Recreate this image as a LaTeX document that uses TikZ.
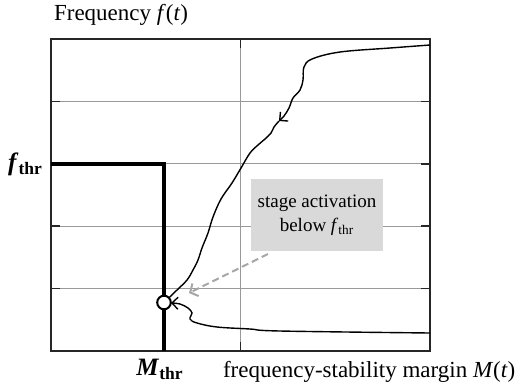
\documentclass[tikz,border=0pt]{standalone}
\usepackage{fontspec}
\setmainfont{Liberation Serif}
\usetikzlibrary{arrows.meta}
\begin{document}
\begin{tikzpicture}[x=0.5pt,y=-0.5pt,
    grid/.style={draw=black!40,line width=0.5pt},
    tick/.style={draw=black!85,line width=0.8pt},
    curve/.style={line width=0.7pt,smooth,tension=0.6},
    barb/.style={-{Straight Barb[length=3pt,width=6pt]}},
    hint/.style={draw=black!35,line width=1pt,dash pattern=on 3.5pt off 2pt,
                 -{Straight Barb[length=3pt,width=7pt,line width=1pt]}},
    label/.style={font=\fontsize{11.5}{13}\selectfont},
    thr/.style={font=\fontsize{12.5}{14}\selectfont\bfseries}]
\useasboundingbox (0,0) rectangle (521,388);

% grid lines and ticks
\foreach \y in {101.4,163.8,226.2,288.6} {
  \draw[grid] (51,\y) -- (430,\y);
  \draw[tick] (51,\y) -- (60,\y);
  \draw[tick] (421,\y) -- (430,\y);
}
\draw[grid] (240.5,39) -- (240.5,351);
\draw[tick] (240.5,39) -- (240.5,48);
\draw[tick] (240.5,342) -- (240.5,351);
\draw[line width=0.9pt,black!85] (51,39) rectangle (430,351);

% threshold
\draw[line width=2pt] (51,163.8) -| (164,351);

% trajectory
\draw[curve,barb] plot coordinates {(430,45) (390,48) (340,52) (312,59) (304,67)
  (303,80) (300,90) (293,98) (289,108) (284,116) (279,121)};
\draw[curve] plot coordinates {(279,121) (274,127) (271,133) (265,139) (258,145)
  (250,153) (241,168) (232,183) (221,199) (213,217) (208,233) (202,248) (198,260)
  (193,270) (187,280) (177,290) (164,302.5)};
\draw[curve,barb] plot coordinates {(430,333) (280,331) (250,329) (217,327)
  (197,323) (190,319) (192,313) (188,308) (180,304) (171,303)};

\node[circle,draw,fill=white,line width=1pt,minimum size=6.8pt,inner sep=0pt] (act) at (164,302.5) {};

% note
\node[fill=black!15,minimum width=65pt,minimum height=36pt,align=center,
      font=\fontsize{9.5}{12}\selectfont] (note) at (317,215)
      {stage activation\\below \textit{f}\textsubscript{thr}};
\coordinate (tail) at (268,254);
\coordinate (tip) at (189,293);
\draw[hint] (tail) -- (tip);

% labels
\node[label,anchor=west] (ylab) at (47,15) {Frequency \textit{f}(\textit{t})};
\node[label,anchor=west] (xlab) at (216,372) {frequency-stability margin \textit{M}(\textit{t})};
\node[thr,anchor=east] (fthr) at (50,164) {\textit{f}\textsubscript{thr}};
\node[thr] (mthr) at (160,369) {\textit{M}\textsubscript{thr}};
\end{tikzpicture}
\end{document}
